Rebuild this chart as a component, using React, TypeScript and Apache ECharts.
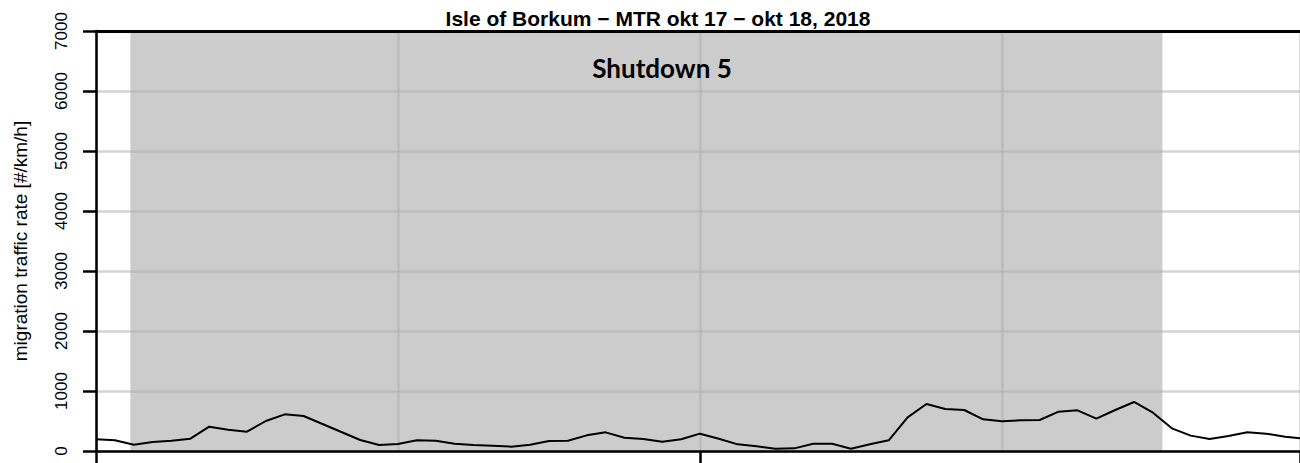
import React, { useEffect, useRef } from "react";
import * as echarts from "echarts";

const titleText = "Isle of Borkum − MTR okt 17 − okt 18, 2018";
const yAxisName = "migration traffic rate [#/km/h]";
const shutdownLabel = "Shutdown 5";

// x = 15-minute step index from the left edge of the plot
const mtrValues = [
  195, 178, 105, 150, 172, 205, 405, 355, 322, 500, 611, 583, 450, 317, 183, 100,
  117, 178, 172, 122, 100, 89, 72, 105, 167, 172, 261, 311, 222, 200, 155, 195,
  289, 205, 111, 78, 39, 44, 122, 122, 39, 111, 178, 561, 783, 700, 683, 528,
  494, 511, 517, 656, 678, 539, 683, 817, 639, 378, 256, 200, 250, 311, 289, 239,
  205,
];
const shutdownStart = 1.82;
const shutdownEnd = 56.5;
const xMin = 0;
const xMax = 63.79;
const yMin = 0;
const yMax = 7000;
const yStep = 1000;
const gridStep = 16;
const tickStep = 32;

export default function App() {
  const ref = useRef<HTMLDivElement>(null);
  useEffect(() => {
    document.body.style.margin = "0";
    const chart = echarts.init(ref.current!, null, { renderer: "svg" });
    const gridLine = { show: true, lineStyle: { color: "rgba(175,175,175,0.55)", width: 2.5 } };
    chart.setOption({
      animation: false,
      backgroundColor: "#ffffff",
      grid: { left: 96, right: 0, top: 31, bottom: 12 },
      xAxis: [
        {
          type: "value", min: xMin, max: xMax, interval: gridStep, position: "bottom", z: 3,
          axisLine: { show: true, lineStyle: { color: "#000", width: 2.5 } },
          axisTick: { show: false }, axisLabel: { show: false }, splitLine: gridLine,
        },
        {
          type: "value", min: xMin, max: xMax, interval: tickStep, position: "bottom", z: 3, offset: 0,
          axisLine: { show: false },
          axisTick: { show: true, length: 14, lineStyle: { color: "#000", width: 2.5 } },
          axisLabel: { show: false }, splitLine: { show: false },
        },
        {
          type: "value", min: xMin, max: xMax, position: "top", z: 3,
          axisLine: { show: true, lineStyle: { color: "#000", width: 3 } },
          axisTick: { show: false }, axisLabel: { show: false }, splitLine: { show: false },
        },
      ],
      yAxis: {
        type: "value", min: yMin, max: yMax, interval: yStep, z: 3,
        name: yAxisName, nameLocation: "middle", nameGap: 66,
        nameTextStyle: { fontFamily: "Liberation Sans", fontSize: 19, color: "#000" },
        axisLine: { show: true, lineStyle: { color: "#000", width: 2.5 } },
        axisTick: { show: true, length: 13, lineStyle: { color: "#000", width: 2.5 } },
        axisLabel: {
          rotate: 90, margin: 26, fontFamily: "Liberation Sans", fontSize: 17, color: "#000",
          formatter: (v: number) => String(v),
        },
        splitLine: gridLine,
      },
      graphic: [
        {
          type: "text", x: 658, y: 18, z: 10,
          style: {
            text: titleText, font: 'bold 21px "Liberation Sans"', fill: "#000",
            textAlign: "center", textVerticalAlign: "middle", align: "center", verticalAlign: "middle",
          },
        },
        {
          type: "text", x: 662, y: 68, z: 10,
          style: {
            text: shutdownLabel, font: "bold 26px Lato", fill: "#000",
            textAlign: "center", textVerticalAlign: "middle", align: "center", verticalAlign: "middle",
          },
        },
      ],
      series: [
        {
          type: "line", xAxisIndex: 0, z: 4, symbol: "none", showSymbol: false, clip: true,
          lineStyle: { color: "#000", width: 2 },
          data: mtrValues.map((v, i) => [i, v]),
          markArea: {
            silent: true,
            itemStyle: { color: "#cccccc" },
            label: { show: false },
            data: [[{ xAxis: shutdownStart }, { xAxis: shutdownEnd }]],
          },
        },
      ],
    });
    return () => chart.dispose();
  }, []);
  return (
    <div
      ref={ref}
      style={{ position: "fixed", left: 0, top: 0, width: 1300, height: 463, background: "#fff" }}
    />
  );
}
